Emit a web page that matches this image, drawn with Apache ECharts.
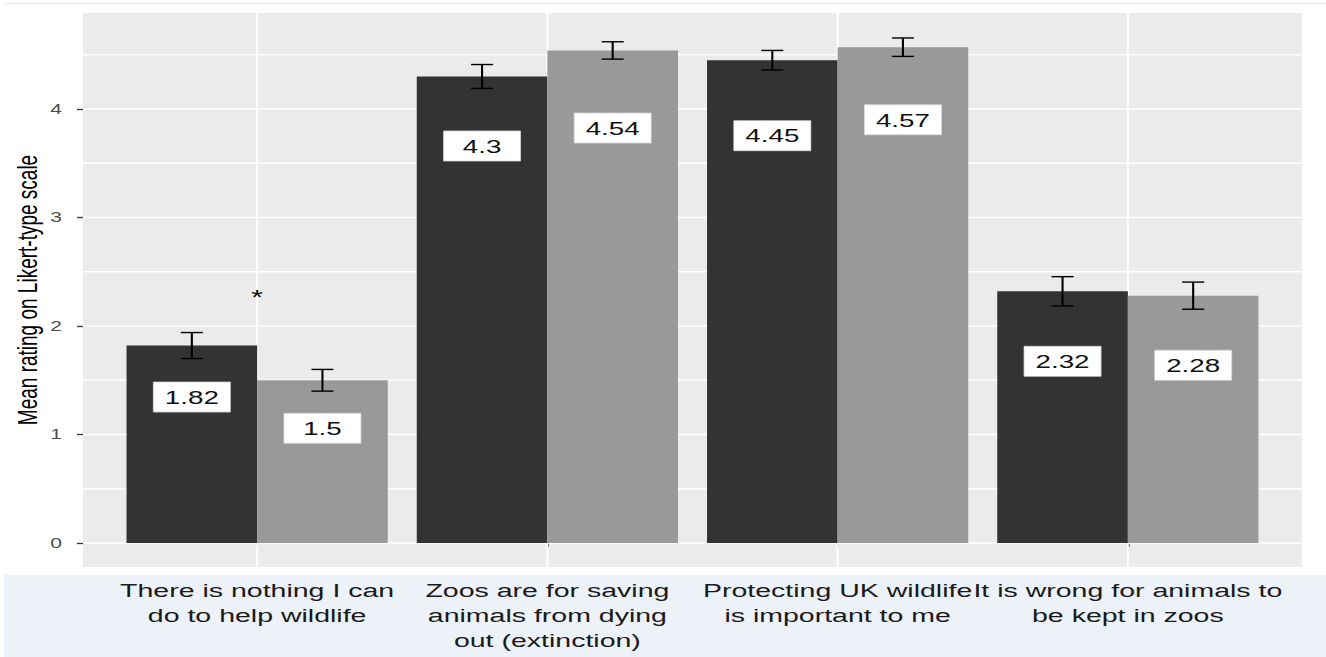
<!DOCTYPE html>
<html>
<head>
<meta charset="utf-8">
<script src="https://cdn.jsdelivr.net/npm/echarts@6/dist/echarts.min.js"></script>
<style>
  html, body { margin: 0; padding: 0; background: #ffffff; overflow: hidden; }
  #page { position: relative; width: 1326px; height: 657px; overflow: hidden; background: #ffffff; }
  #topRule { position: absolute; left: 5px; right: 0; top: 3px; height: 1px; background: #e2e9ed; }
  #labelBand { position: absolute; left: 4px; right: 0; top: 575px; bottom: 0; background: #edf1f8; }
  /* the figure is drawn narrow and widened horizontally as a whole */
  #chart { position: absolute; left: 0; top: 0; width: 884px; height: 657px; transform: scaleX(1.5); transform-origin: 0 0; }
</style>
</head>
<body>
<div id="page">
  <div id="topRule"></div>
  <div id="labelBand"></div>
  <div id="chart"></div>
</div>
<script>
// ---- data ----
const categories = [
  'There is nothing I can\ndo to help wildlife',
  'Zoos are for saving\nanimals from dying\nout (extinction)',
  'Protecting UK wildlife\nis important to me',
  'It is wrong for animals to\nbe kept in zoos'
];
const darkMeans = [1.82, 4.3, 4.45, 2.32];
const greyMeans = [1.5, 4.54, 4.57, 2.28];
const darkSE = [0.12, 0.11, 0.09, 0.135];
const greySE = [0.10, 0.08, 0.085, 0.125];
const yTickValues = [0, 1, 2, 3, 4];
const yMinorValues = [0.5, 1.5, 2.5, 3.5, 4.5];
const significantCategories = [0];   // '*' drawn above these groups

// ---- layout ----
const SX = 1.5;                       // horizontal widening of the drawing
const W = 1326 / SX, H = 657;
const GRID = { left: 83 / SX, right: 24 / SX, top: 13, bottom: 90 };
const X_MIN = 0.4, X_MAX = 4.6;       // 0.6 padding either side of the 4 groups
const Y_MIN = -0.221, Y_MAX = 4.885;
const DODGE = 0.225;                  // half a bar, in x units (group width 0.9)
const CAP = 0.038;                    // half width of an error-bar cap, x units
const BAR_PX = (W - GRID.left - GRID.right) / (X_MAX - X_MIN) * 2 * DODGE;
const LABEL_BOX = { w: 77 / SX, h: 30 };
const labelDropPx = [[51.5, 69.5, 75.5, 70], [48, 77.6, 72.6, 69.6]];
const STAR_Y = 2.265;
const FONT = '"Liberation Sans", Arial, Helvetica, sans-serif';

const chart = echarts.init(document.getElementById('chart'), null, { renderer: 'svg', width: W, height: H });

const groups = [
  { means: darkMeans, se: darkSE, shift: -DODGE, drop: labelDropPx[0] },
  { means: greyMeans, se: greySE, shift: DODGE, drop: labelDropPx[1] }
];

const errorRows = [];
const labelRows = [];
groups.forEach((g) => {
  g.means.forEach((m, i) => {
    errorRows.push([i + 1 + g.shift, m, g.se[i]]);
    labelRows.push([i + 1 + g.shift, m, g.drop[i]]);
  });
});

function renderHLine(params, api) {
  const v = api.value(1);
  const a = api.coord([X_MIN, v]);
  const b = api.coord([X_MAX, v]);
  return { type: 'line', shape: { x1: a[0], y1: a[1], x2: b[0], y2: b[1] },
           style: { stroke: '#ffffff', lineWidth: 1.7 } };
}
function renderVLine(params, api) {
  const c = api.value(0);
  const a = api.coord([c, Y_MIN]);
  const b = api.coord([c, Y_MAX]);
  return { type: 'line', shape: { x1: a[0], y1: a[1], x2: b[0], y2: b[1] },
           style: { stroke: '#ffffff', lineWidth: 1.3 } };
}
function renderError(params, api) {
  const x = api.value(0), m = api.value(1), se = api.value(2);
  const hi = api.coord([x, m + se]);
  const lo = api.coord([x, m - se]);
  const half = api.size([CAP, 0])[0];
  const st = { stroke: '#000000', lineWidth: 1.4 };
  return { type: 'group', children: [
    { type: 'line', shape: { x1: hi[0], y1: hi[1], x2: lo[0], y2: lo[1] }, style: st },
    { type: 'line', shape: { x1: hi[0] - half, y1: hi[1], x2: hi[0] + half, y2: hi[1] }, style: st },
    { type: 'line', shape: { x1: lo[0] - half, y1: lo[1], x2: lo[0] + half, y2: lo[1] }, style: st }
  ] };
}
function renderValueLabel(params, api) {
  const x = api.value(0), m = api.value(1), drop = api.value(2);
  const p = api.coord([x, m]);
  const cy = p[1] + drop;
  return { type: 'group', children: [
    { type: 'rect', shape: { x: p[0] - LABEL_BOX.w / 2, y: cy - LABEL_BOX.h / 2, width: LABEL_BOX.w, height: LABEL_BOX.h },
      style: { fill: '#ffffff', stroke: '#d9d9d9', lineWidth: 0.6 } },
    { type: 'text', style: { text: String(m), x: p[0], y: cy + 0.5, align: 'center', verticalAlign: 'middle',
      fontSize: 18.5, fontFamily: FONT, fill: '#111111' } }
  ] };
}
function renderStar(params, api) {
  const p = api.coord([api.value(0), api.value(1)]);
  return { type: 'text', style: { text: '*', x: p[0], y: p[1], align: 'center', verticalAlign: 'middle',
    fontSize: 20, fontFamily: FONT, fill: '#000000' } };
}

const option = {
  animation: false,
  backgroundColor: 'transparent',
  grid: { left: GRID.left, right: GRID.right, top: GRID.top, bottom: GRID.bottom,
          containLabel: false, outerBoundsMode: 'none',
          show: true, backgroundColor: '#ebebeb', borderWidth: 0 },
  xAxis: {
    type: 'value', min: X_MIN, max: X_MAX,
    axisLine: { show: false },
    splitLine: { show: false },
    axisTick: { show: true, customValues: [1, 2, 3, 4], length: 4, lineStyle: { color: '#333333', width: 1 } },
    axisLabel: {
      customValues: [1, 2, 3, 4],
      formatter: v => categories[Math.round(v) - 1] || '',
      margin: 11, fontSize: 19, lineHeight: 25, fontFamily: FONT, color: '#1a1a1a', align: 'center'
    }
  },
  yAxis: {
    type: 'value', min: Y_MIN, max: Y_MAX,
    name: 'Mean rating on Likert-type scale', nameLocation: 'middle', nameGap: 28,
    nameMoveOverlap: false,
    nameTextStyle: { fontSize: 19, fontFamily: FONT, color: '#000000' },
    axisLine: { show: false },
    splitLine: { show: false },
    axisTick: { show: true, customValues: yTickValues, length: 4, lineStyle: { color: '#333333', width: 1.3 } },
    axisLabel: { customValues: yTickValues, margin: 14, fontSize: 14, fontFamily: FONT, color: '#4d4d4d' }
  },
  series: [
    { type: 'custom', name: 'major grid', z: 1, silent: true, renderItem: renderHLine,
      data: yTickValues.map(v => [X_MIN, v]) },
    { type: 'custom', name: 'minor grid', z: 1, silent: true, renderItem: renderHLine,
      data: yMinorValues.map(v => [X_MIN, v]) },
    { type: 'custom', name: 'group grid', z: 1, silent: true, renderItem: renderVLine,
      data: categories.map((c, i) => [i + 1, 0]) },
    { type: 'bar', name: 'dark', z: 2, barWidth: BAR_PX, barGap: '0%', itemStyle: { color: '#333333' },
      data: darkMeans.map((v, i) => [i + 1, v]) },
    { type: 'bar', name: 'grey', z: 2, barWidth: BAR_PX, barGap: '0%', itemStyle: { color: '#999999' },
      data: greyMeans.map((v, i) => [i + 1, v]) },
    { type: 'custom', name: 'error bars', z: 3, silent: true, renderItem: renderError, data: errorRows },
    { type: 'custom', name: 'value labels', z: 4, silent: true, renderItem: renderValueLabel, data: labelRows },
    { type: 'custom', name: 'significance', z: 4, silent: true, renderItem: renderStar,
      data: significantCategories.map(i => [i + 1, STAR_Y]) }
  ]
};
chart.setOption(option);
</script>
</body>
</html>
